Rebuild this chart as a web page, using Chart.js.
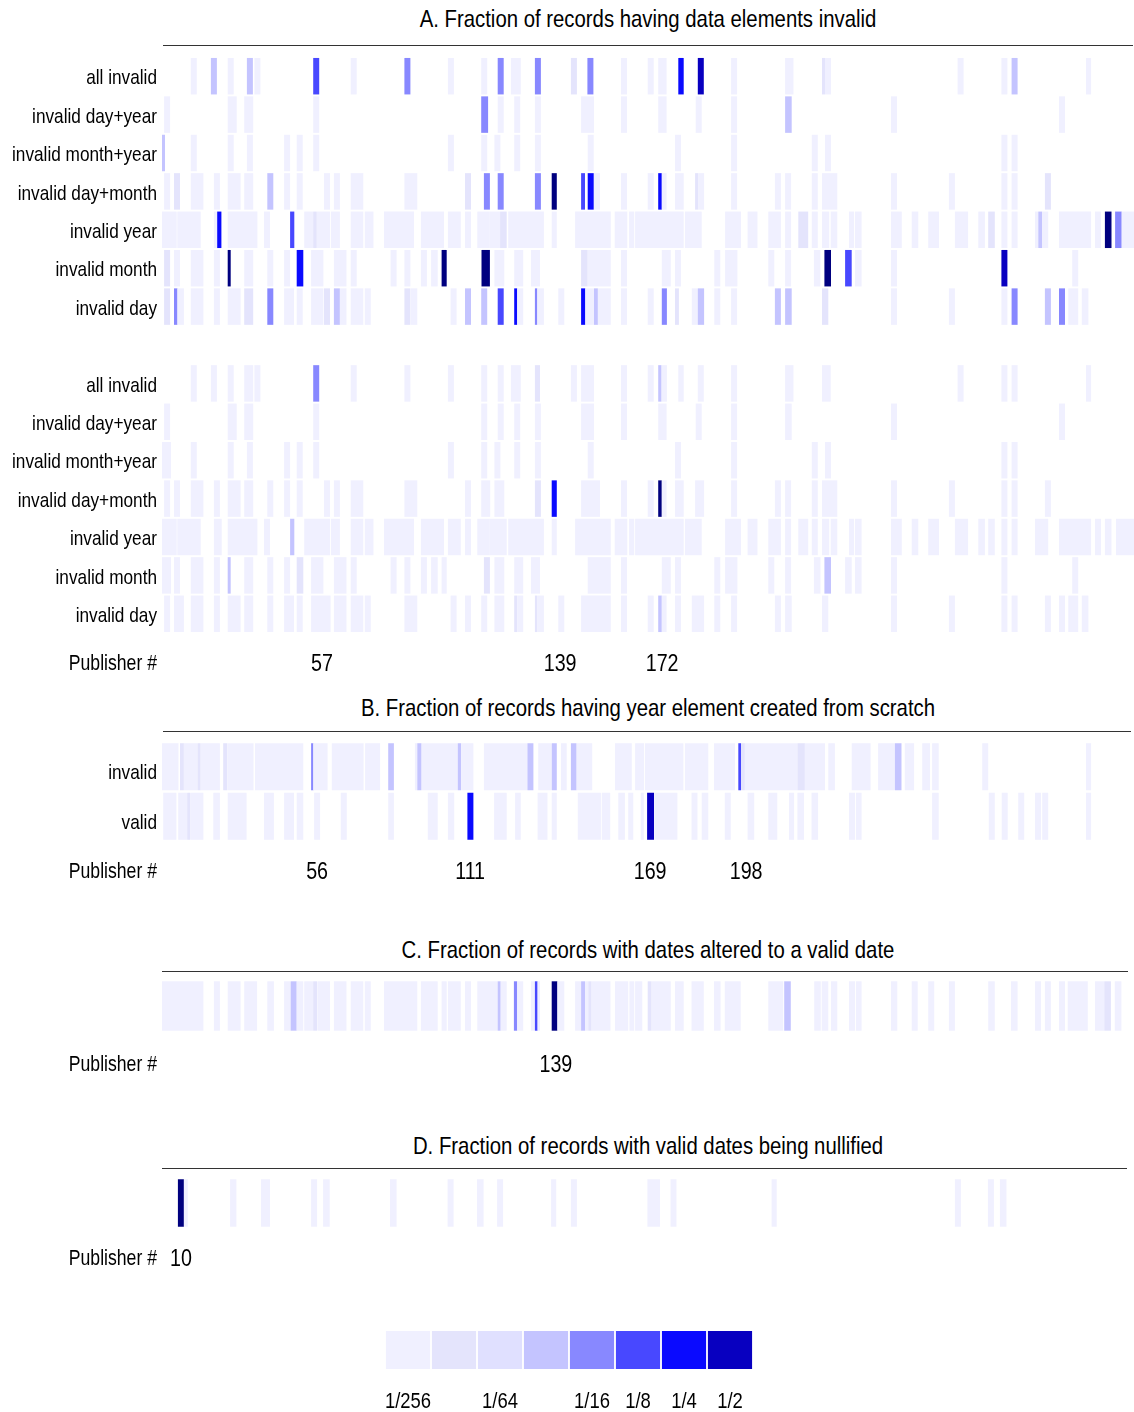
<!DOCTYPE html>
<html>
<head>
<meta charset="utf-8">
<script src="https://cdn.jsdelivr.net/npm/chart.js@4.4.1/dist/chart.umd.min.js"></script>
<style>
  body { margin: 0; background: #fff; font-family: 'Liberation Sans', Arial, sans-serif; }
  #page { position: relative; width: 1134px; height: 1412px; overflow: hidden; }
  canvas, .txt, .rule { position: absolute; }
  /* condensed look: the narrow face is not installed, so squeeze the regular one */
  .title { left: 163px; width: 970px; text-align: center; font-size: 24.8px; line-height: 30px; color: #000; transform: scaleX(0.82); transform-origin: 50% 50%; white-space: nowrap; }
  .pub { left: 0; width: 157px; text-align: right; font-size: 21.5px; line-height: 26px; color: #000; transform: scaleX(0.82); transform-origin: 100% 50%; white-space: nowrap; }
  .rule { height: 0; border-top: 1px solid #333; }
</style>
</head>
<body>
<div id="page">
  <div class="txt title" style="top:4px">A. Fraction of records having data elements invalid</div>
  <div class="rule" style="top:45px;left:163px;width:970px"></div>
  <canvas id="chartA" width="1134" height="626" style="left:0;top:57px"></canvas>
  <div class="txt pub" style="top:650px">Publisher #</div>

  <div class="txt title" style="top:693px">B. Fraction of records having year element created from scratch</div>
  <div class="rule" style="top:731px;left:163px;width:968px"></div>
  <canvas id="chartB" width="1134" height="149" style="left:0;top:742px"></canvas>
  <div class="txt pub" style="top:858px">Publisher #</div>

  <div class="txt title" style="top:935px">C. Fraction of records with dates altered to a valid date</div>
  <div class="rule" style="top:971px;left:162px;width:966px"></div>
  <canvas id="chartC" width="1134" height="102" style="left:0;top:980px"></canvas>
  <div class="txt pub" style="top:1051px">Publisher #</div>

  <div class="txt title" style="top:1131px">D. Fraction of records with valid dates being nullified</div>
  <div class="rule" style="top:1168px;left:162px;width:965px"></div>
  <canvas id="chartD" width="1134" height="100" style="left:0;top:1178px"></canvas>
  <div class="txt pub" style="top:1245px">Publisher #</div>

  <canvas id="legend" width="410" height="88" style="left:365px;top:1331px"></canvas>
</div>
<script>
// colour levels: 1 = 1/256 ... 8 = 1/2, 9 = darkest
const levelColors = ['#ffffff', '#f0f0ff', '#e4e4fc', '#e0e0ff', '#c4c4ff', '#8888ff', '#4848ff', '#0a0aff', '#0800c0', '#00007f'];
const legendLevels = ['1/256', '1/128', '1/64', '1/32', '1/16', '1/8', '1/4', '1/2'];
const legendTickLabels = ['1/256', '', '1/64', '', '1/16', '1/8', '1/4', '1/2'];

// publisher columns run 0..324 across the plot
const slotCount = 324;
const rowNamesA = ['all invalid', 'invalid day+year', 'invalid month+year', 'invalid day+month', 'invalid year', 'invalid month', 'invalid day'];
const rowNamesB = ['invalid', 'valid'];

// tick labels (publisher #) and the column where each sits
const ticksA = ['57', '139', '172'];
const tickSlotsA = [53.3, 132.7, 166.7];
const ticksB = ['56', '111', '169', '198'];
const tickSlotsB = [51.7, 102.7, 162.7, 194.7];
const ticksC = ['139'];
const tickSlotsC = [131.3];
const ticksD = ['10'];
const tickSlotsD = [6.3];

// each cell: [first column, width in columns, colour level]
const a1AllInvalid = [[9.6,2,1],[16.3,2,4],[21.9,2,1],[28.3,2,4],[30.8,2,1],[50.4,2,6],[62.9,2,1],[80.8,2,5],[95.3,2,1],[106.4,2,1],[111.9,2,5],[116.3,3.3,1],[124.3,2,5],[136.3,2,2],[141.8,2,5],[153,2,1],[161.9,2,1],[165.4,2.8,1],[172.1,1.8,7],[178.6,2,8],[189.7,2,1],[207.7,2.8,1],[220,1,2],[221,2,1],[265.2,2,1],[279.8,2,1],[283.2,2,4],[308,1.7,1]];
const a1DayYear = [[0.7,2,1],[21.9,3,1],[27.4,3,1],[50.4,2,1],[106.4,2.3,5],[111.9,2,1],[117.4,2,1],[124.3,2,1],[139.7,4.3,1],[153,2,1],[165.4,2.8,1],[177.9,2,1],[189.7,2,1],[207.7,2.2,4],[243,2,1],[299,2,1]];
const a1MonthYear = [[0,1,4],[9.6,2,1],[21.9,2,1],[28.3,2,1],[40.7,2,1],[44.9,2,1],[50.4,2,1],[95.3,2,1],[106.4,2,1],[110.8,2,1],[117.4,2,1],[124.3,2,1],[141.9,2,1],[171,2,1],[189.7,2,1],[216.6,2,1],[221,2,1],[279.8,2,1],[283.2,2,1]];
const a1DayMonth = [[0.7,2,1],[4,2,2],[9.6,4.2,1],[17.3,2,1],[21.9,4.3,1],[27.4,3,1],[35.1,2,4],[40.7,2,1],[44.9,2,1],[54,2,1],[57.3,2,1],[62.9,4.2,1],[80.8,4.3,1],[101,2,2],[107.3,2,5],[111.9,2,5],[124.3,2,5],[129.9,1.7,9],[139.7,1.3,6],[141.9,2,7],[144,2,1],[153,2,1],[161.9,2,1],[165.4,1.2,7],[166.6,1.6,1],[171,2.9,1],[177.7,1.1,2],[178.8,1.9,1],[189.7,2,1],[204.3,2,1],[207.7,2,1],[216.6,2,1],[220,5.1,1],[243,2,1],[262.3,2,1],[279.8,2,1],[283.2,2,1],[294.3,2,2]];
const a1Year = [[0,4.9,1],[5.1,7.8,1],[17.3,1.1,1],[18.4,1.4,7],[21.9,9.9,1],[34,2,1],[42.7,1.4,6],[47.4,3,1],[50.4,1.2,2],[51.6,4.4,1],[56.3,3,1],[62.9,4.2,1],[67.6,2.9,1],[74,10,1],[86.3,7.7,1],[95.3,4.3,1],[101,2,1],[105.1,4.2,1],[109.3,3.4,1],[112.7,2.2,2],[115.4,11.9,1],[129.9,1.7,1],[137.7,11.9,1],[150.9,4.2,1],[155.7,1.7,1],[157.7,16.2,1],[174.3,5.6,1],[187.7,5.3,1],[195.2,3.3,1],[202.1,4.2,1],[207.7,2,1],[212.1,3.3,2],[216.6,2,1],[220,2.4,1],[222.9,2.2,1],[229,1.7,1],[231,2.2,1],[243,3.6,1],[249.9,2.2,1],[255.4,3.6,1],[264.3,4.4,1],[272.1,2.2,1],[275.4,2.2,2],[279.8,2,1],[283.2,2,1],[291,1.1,1],[292.1,1.3,4],[293.4,2,1],[299,10.7,1],[311,2,1],[314.3,2.2,9],[317.7,2.2,5],[319.9,4.1,1]];
const a1Month = [[0.7,2,2],[4,2,1],[9.6,4.2,1],[17.3,2,1],[21.9,1,9],[27.4,3,1],[35.1,2,1],[40.7,2,1],[44.9,2.2,7],[49.7,4.1,1],[57.3,4.2,1],[62.9,2,1],[76.2,2,1],[80.8,2,1],[86.3,2,1],[89.7,2.2,1],[93.2,1.7,9],[106.5,2.8,9],[110.8,3.3,1],[117.4,3,1],[123,3,1],[139.7,2.2,2],[141.9,7.7,1],[153,2,1],[166.6,3,1],[171,2,1],[184.1,2,1],[187.7,4.1,1],[202.1,2,1],[207.7,2,1],[217.3,2.2,1],[220.8,2.2,9],[227.7,2.2,6],[231,2.2,1],[243,2,1],[279.8,2,8],[303.4,2,1]];
const a1Day = [[0.7,2,2],[4,1.2,5],[5.1,2.2,1],[9.6,4.2,1],[17.3,2,1],[21.9,4.3,1],[27.4,3,2],[35.1,2,5],[40.7,3.3,1],[44.9,2,1],[49.7,4.1,1],[54,2,2],[57.3,2,4],[59.3,2.2,1],[62.9,4.2,1],[67.6,2,1],[80.8,2,2],[82.9,2.2,1],[96.2,2,1],[101,2,4],[106.4,2,4],[111.9,2,6],[117.4,1,7],[118.4,2,1],[124.3,0.8,5],[125.1,2.2,1],[132.1,2,1],[139.7,1.4,7],[141.1,2.9,1],[144,1.3,4],[145.3,4.3,1],[153,2,1],[161.9,2,1],[166.6,1.7,5],[171,1.3,2],[176.6,2,1],[178.6,2.1,4],[184.1,2,1],[189.7,2,1],[204.3,2,4],[207.7,2.2,4],[220,2.1,2],[243,2,1],[262.3,2,1],[279.8,2,1],[283.2,2,5],[294.3,2,4],[299,2,5],[302.1,3.3,1],[306.6,2.2,1]];

const a2AllInvalid = [[9.6,2,1],[16.3,2,1],[21.9,2,1],[27.4,3,1],[30.8,2,1],[50.4,2,5],[62.9,2,1],[80.8,2,1],[95.3,2,1],[106.4,2,1],[111.9,2,1],[116.3,3.3,1],[124.3,1.7,2],[136.3,2,1],[139.7,4.3,1],[153,2,1],[161.9,2,1],[165.4,1.1,4],[166.6,1.7,1],[172.1,1.8,1],[178.6,2,1],[189.7,2,1],[207.7,2.8,1],[220,2.9,1],[265.2,2,1],[279.8,2,1],[283.2,2,1],[308,1.7,1]];
const a2DayYear = [[0.7,2,1],[21.9,3,1],[27.4,3,1],[50.4,2,1],[106.4,2,1],[111.9,2,1],[117.4,2,1],[124.3,2,1],[139.7,4.3,1],[153,2,1],[165.4,2.8,1],[177.9,2,1],[189.7,2,1],[207.7,2.2,1],[243,2,1],[299,2,1]];
const a2MonthYear = [[0,3,1],[9.6,2,1],[21.9,2,1],[28.3,2,1],[40.7,2,1],[44.9,2,1],[50.4,2,1],[95.3,2,1],[106.4,2,1],[110.8,2,1],[117.4,2,1],[124.3,2,1],[141.9,2,1],[171,2,1],[189.7,2,1],[216.6,2,1],[221,2,1],[279.8,2,1],[283.2,2,1]];
const a2DayMonth = [[0.7,2,1],[4,2,1],[9.6,4.2,1],[17.3,2,1],[21.9,4.3,1],[27.4,3,1],[35.1,2,1],[40.7,2,1],[44.9,2,1],[54,2,1],[57.3,2,1],[62.9,4.2,1],[80.8,4.3,1],[101,2,1],[106.4,3,1],[110.8,3.3,1],[124.3,2,2],[129.9,1.7,7],[139.7,6.3,1],[153,2,1],[161.9,2,1],[165.4,1.2,9],[166.6,1.6,1],[171,2.9,1],[177.7,3,1],[189.7,2,1],[204.3,2,1],[207.7,2,1],[216.6,2,1],[220,5.1,1],[243,2,1],[262.3,2,1],[279.8,2,1],[283.2,2,1],[294.3,2,1]];
const a2Year = [[0,4.9,1],[5.1,7.8,1],[17.3,2.6,1],[21.9,9.9,1],[34,2,1],[42.7,1.4,4],[47.4,8.6,1],[56.3,3,1],[62.9,4.2,1],[67.6,2.9,1],[74,10,1],[86.3,7.7,1],[95.3,4.3,1],[101,2,1],[105.1,4.2,1],[109.3,5.6,1],[115.4,11.9,1],[129.9,1.7,1],[137.7,11.9,1],[150.9,4.2,1],[155.7,1.7,1],[157.7,16.2,1],[174.3,5.6,1],[187.7,5.3,1],[195.2,3.3,1],[202.1,4.2,1],[207.7,2,1],[212.1,3.3,1],[216.6,2,1],[220,2.4,1],[222.9,2.2,1],[229,1.7,1],[231,2.2,1],[243,3.6,1],[249.9,2.2,1],[255.4,3.6,1],[264.3,4.4,1],[272.1,2.2,1],[275.4,2.2,1],[279.8,2,1],[283.2,2,1],[291,4.4,1],[299,10.7,1],[311,2,1],[314.3,2.2,1],[318,6,1]];
const a2Month = [[0,3,1],[4,2,1],[9.6,4.2,1],[17.3,2,1],[21.9,1,4],[27.4,3,1],[35.1,2,1],[40.7,2,1],[44.9,2.2,2],[49.7,4.1,1],[57.3,4.2,1],[62.9,2,1],[76.2,2,1],[80.8,2,1],[86.3,2,1],[89.7,2.2,1],[93.2,1.7,1],[107.3,2,2],[110.8,3.3,1],[117.4,3,1],[123,3,1],[141.9,7.7,1],[153,2,1],[166.6,3,1],[171,2,1],[184.1,2,1],[187.7,4.1,1],[202.1,2,1],[207.7,2,1],[217.3,2.2,1],[220.8,2.2,4],[227.7,2.2,1],[231,2.2,1],[243,2,1],[279.8,2,1],[303.4,2,1]];
const a2Day = [[0.7,2,1],[4,3.3,1],[9.6,4.2,1],[17.3,2,1],[21.9,4.3,1],[27.4,3,1],[35.1,2,1],[40.7,3.3,1],[44.9,2,1],[49.7,6.5,1],[57.3,4.2,1],[62.9,4.2,1],[67.6,2,1],[80.8,4.3,1],[96.2,2,1],[101,2,1],[106.4,2,1],[110.8,3.3,1],[117.4,1,2],[118.4,2,1],[124.3,0.8,2],[125.1,2.2,1],[132.1,2,1],[139.7,9.9,1],[153,2,1],[161.9,2,1],[165.4,1.2,4],[166.6,1.6,1],[171,2,1],[176.6,4.1,1],[184.1,2,1],[189.7,2,1],[204.3,2,1],[207.7,2.2,1],[220,2.1,1],[243,2,1],[262.3,2,1],[279.8,2,1],[283.2,2,1],[294.3,2,1],[299,2,1],[302.1,3.3,1],[306.6,2.2,1]];

const bInvalid = [[0,5.5,1],[6,1.3,2],[7.3,4.4,1],[11.8,1.1,2],[12.9,6.4,1],[20.4,1.4,2],[21.9,8.6,1],[31,16.1,1],[49.7,0.8,5],[50.4,4.8,1],[56.6,10.6,1],[67.7,5,1],[75.4,1.9,4],[84.3,0.8,1],[85.1,1.4,4],[86.6,12,1],[98.6,1.1,4],[99.7,4.1,1],[107.3,14.4,1],[121.8,2,4],[125.4,4.4,1],[129.9,1.7,4],[133,1.9,1],[136.3,1.9,4],[138.2,5.2,1],[151,5.6,1],[157.7,3,1],[161,12.8,1],[174.3,7.8,1],[184,7,1],[192.1,0.9,6],[193,1.3,2],[194.3,17.5,1],[211.8,2.5,2],[214.3,6.7,1],[222.1,2.2,1],[229.9,6.3,1],[238.7,5.6,1],[244.3,2.2,4],[247.6,3.1,1],[253.4,2.6,1],[256.7,2.2,1],[273.4,2,1],[308,1.7,1]];
const bValid = [[0.4,4.4,1],[5.4,3,1],[8.4,1.1,2],[9.6,4.2,1],[17.1,2.2,1],[21.9,6.3,1],[34,3.3,1],[40.7,3.3,1],[44.9,2.2,1],[50.7,2,1],[59.6,2,1],[75.4,1.9,1],[88.6,3.3,1],[95.3,2.1,1],[101.8,2,7],[110.7,4.2,1],[117.7,1.9,1],[125.2,3.3,1],[129.9,1.7,1],[138.6,7.7,1],[146.6,2.8,1],[152.1,2.2,1],[155.4,1.7,1],[159.6,1,1],[161.7,2.3,8],[164.1,7.7,1],[176.5,2,1],[179.9,2.2,1],[187.6,2,1],[195.2,2.2,1],[202.1,3,1],[209,1.7,1],[211.8,2.2,1],[216.5,2.2,1],[229,2,1],[231.3,1.9,1],[256.7,2.2,1],[275.6,2,1],[279.9,2,1],[285.4,2,1],[291,2,1],[293.4,2,1],[308,1.7,1]];

const cAltered = [[0,13.8,1],[17.3,2,1],[21.9,4.3,1],[27.4,4.3,1],[35.1,2.2,1],[40.7,2.2,1],[42.9,2,4],[44.9,2.2,1],[47.4,3,1],[50.4,1.3,2],[51.8,4.2,1],[57.3,4.2,1],[62.9,4.2,1],[67.6,2,1],[74,11.1,1],[86.3,5.6,1],[93.2,1.7,1],[95.3,4.3,1],[101,2,1],[105.1,6.8,1],[111.9,1,4],[112.9,2,1],[117.3,1.1,5],[118.4,2,1],[123,1.3,1],[124.3,0.9,6],[125.2,0.8,1],[129.9,1.9,9],[131.8,2.3,1],[137.7,2,1],[139.7,1.3,4],[141,1.1,1],[142.1,1.1,2],[143.2,6.3,1],[151,4.4,1],[155.8,1.6,1],[157.7,2.4,1],[161.9,1.3,2],[163.2,6.4,1],[171,2.9,1],[176.5,4.1,1],[184,2.2,1],[187.6,5.3,1],[202.1,5,1],[207.4,2.2,4],[217.4,2.2,1],[219.9,2.2,1],[223,2.1,1],[229,2,1],[231.3,1.9,1],[243,2.1,1],[249.9,2,1],[255.4,2,1],[262.3,2,1],[275.4,2.2,1],[283,2.2,1],[291,2,1],[294.3,2,1],[299,2,1],[301.9,6.7,1],[311,3.1,1],[314.1,2.2,2],[317.6,2.2,1]];

const dNullified = [[5.3,2,9],[7.3,1.3,1],[22.7,2.1,1],[33,3,1],[49.7,2,1],[53.7,2.2,1],[76,2.2,1],[95.2,2,1],[105,2.2,1],[111.7,2,1],[129.7,1.7,1],[136.3,2,1],[161.8,4.2,1],[169.5,2,1],[203.2,1.7,1],[264.3,2,1],[275.3,2,1],[279.3,2.2,1]];

const NARROW = 0.82;
Chart.defaults.font.family = "'Liberation Sans', Arial, sans-serif";
Chart.defaults.color = '#000';

// squeeze axis text horizontally so it looks like the condensed face of the original
const narrowText = {
  id: 'narrowText',
  beforeDraw(chart) {
    const ctx = chart.ctx;
    const fill = CanvasRenderingContext2D.prototype.fillText;
    ctx.fillText = function (t, x, y) {
      this.save();
      this.translate(x, y);
      this.scale(NARROW, 1);
      fill.call(this, t, 0, 0);
      this.restore();
    };
  },
  afterDraw(chart) {
    delete chart.ctx.fillText;
  }
};

function heatmap(id, rowNames, rows, tickSlots, tickLabels, tickPad, rowLabelShift) {
  const points = [];
  rows.forEach((segs, r) => {
    segs.forEach(s => points.push({ x: [s[0], s[0] + s[1]], y: r, lvl: s[2] }));
  });
  return new Chart(document.getElementById(id), {
    type: 'bar',
    plugins: [narrowText],
    data: {
      datasets: [{
        data: points,
        backgroundColor: c => levelColors[c.raw ? c.raw.lvl : 1],
        borderWidth: 0,
        barPercentage: 0.95,
        categoryPercentage: 1
      }]
    },
    options: {
      indexAxis: 'y',
      responsive: false,
      animation: false,
      devicePixelRatio: 1,
      layout: { padding: 0 },
      plugins: { legend: { display: false }, tooltip: { enabled: false } },
      scales: {
        x: {
          type: 'linear', min: 0, max: slotCount,
          grid: { display: false, drawTicks: false },
          border: { display: false },
          ticks: { autoSkip: false, maxRotation: 0, padding: tickPad, font: { size: 24 }, callback: (v, i) => tickLabels[i] },
          afterBuildTicks: s => { s.ticks = tickSlots.map(v => ({ value: v })); },
          afterFit: s => { s.height = 50; s.paddingLeft = 0; s.paddingRight = 0; }
        },
        y: {
          type: 'linear', reverse: true, offset: false, min: -0.5, max: rowNames.length - 0.5,
          grid: { display: false, drawTicks: false, offset: false },
          border: { display: false },
          ticks: { autoSkip: false, padding: 5, labelOffset: rowLabelShift, font: { size: 21 }, callback: (v, i) => rowNames[i] },
          afterBuildTicks: s => { s.ticks = rowNames.map((n, i) => ({ value: i })); },
          afterFit: s => { s.width = 162; s.paddingTop = 0; s.paddingBottom = 0; }
        }
      }
    }
  });
}

heatmap('chartA', rowNamesA.concat([''], rowNamesA),
  [a1AllInvalid, a1DayYear, a1MonthYear, a1DayMonth, a1Year, a1Month, a1Day, [],
   a2AllInvalid, a2DayYear, a2MonthYear, a2DayMonth, a2Year, a2Month, a2Day],
  tickSlotsA, ticksA, 17, 2.5);
heatmap('chartB', rowNamesB, [bInvalid, bValid], tickSlotsB, ticksB, 16.5, 6.5);
heatmap('chartC', [''], [cAltered], tickSlotsC, ticksC, 18.5, 0);
heatmap('chartD', [''], [dNullified], tickSlotsD, ticksD, 16.5, 0);

// colour key
new Chart(document.getElementById('legend'), {
  type: 'bar',
  plugins: [narrowText],
  data: {
    labels: legendLevels,
    datasets: [{
      data: legendLevels.map(() => 1),
      backgroundColor: legendLevels.map((l, i) => levelColors[i + 1]),
      borderWidth: 0,
      barPercentage: 0.96,
      categoryPercentage: 1
    }]
  },
  options: {
    responsive: false,
    animation: false,
    devicePixelRatio: 1,
    layout: { padding: { left: 20, right: 22 } },
    plugins: { legend: { display: false }, tooltip: { enabled: false } },
    scales: {
      x: {
        grid: { display: false, drawTicks: false },
        border: { display: false },
        ticks: { autoSkip: false, maxRotation: 0, padding: 19.5, font: { size: 22.5 }, callback: (v, i) => legendTickLabels[i] },
        afterFit: s => { s.height = 50; s.paddingLeft = 0; s.paddingRight = 0; }
      },
      y: { display: false, min: 0, max: 1 }
    }
  }
});
</script>
</body>
</html>
